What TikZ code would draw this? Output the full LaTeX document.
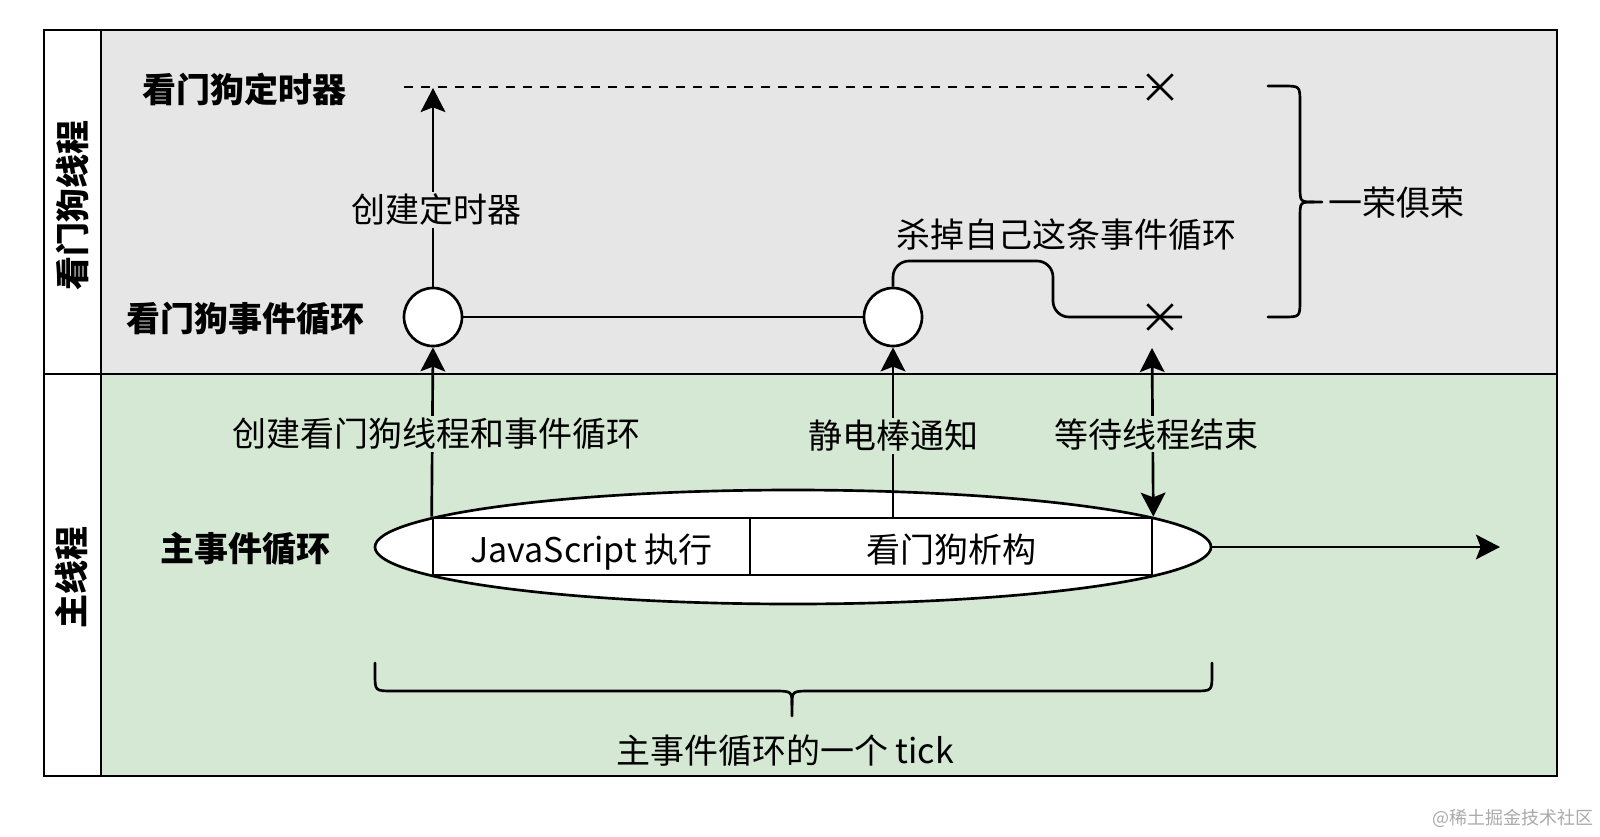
\documentclass[tikz,border=0pt]{standalone}
\usepackage{fontspec}
\setmainfont{Noto Sans CJK SC}
\usetikzlibrary{arrows.meta,shapes.geometric,shapes.misc}
\definecolor{lanegray}{HTML}{E6E6E6}
\definecolor{lanegreen}{HTML}{D5E8D4}
\definecolor{wmgray}{HTML}{AAAAAA}
\begin{document}
\begin{tikzpicture}[x=0.75pt,y=-0.75pt,
  every node/.style={font=\fontsize{25.5}{30}\selectfont, inner sep=0pt},
  ln/.style={line width=2pt},
  arr/.style={ln,-{Stealth[length=18pt,width=18.5pt,inset=3.5pt]}},
  darr/.style={ln,{Stealth[length=18pt,width=18.5pt,inset=3.5pt]}-{Stealth[length=18pt,width=18.5pt,inset=3.5pt]}},
  boldlbl/.style={font=\fontsize{25.5}{30}\selectfont\bfseries},
  lanelbl/.style={boldlbl, rotate=90},
  graylbl/.style={fill=lanegray, inner sep=2pt},
  greenlbl/.style={fill=lanegreen, inner sep=2pt},
  circ/.style={circle, draw, ln, fill=white, minimum size=43.5pt},
  xmark/.style={cross out, draw, ln, minimum size=17pt},
  barbox/.style={rectangle, draw, ln, fill=white, minimum height=42.75pt, text height=26pt, text depth=2pt},
  bracestyle/.style={ln, line cap=round},
  dashline/.style={ln, dash pattern=on 6.75pt off 6pt}
]
\useasboundingbox (0,0) rectangle (1600,836);
\fill[white] (0,0) rectangle (1600,836);
% lanes
\fill[lanegray] (101,30) rectangle (1557,374);
\fill[lanegreen] (101,374) rectangle (1557,776);
\draw[ln] (44,30) rectangle (1557,776);
\draw[ln] (101,30) -- (101,776);
\draw[ln] (44,374) -- (1557,374);

% lane labels
\node[lanelbl] (wdthread) at (72,205) {看门狗线程};
\node[lanelbl] (mainthread) at (72,577) {主线程};

% row labels
\node[boldlbl] (timerlbl) at (244,89) {看门狗定时器};
\node[boldlbl] (wdloop) at (245,319) {看门狗事件循环};
\node[boldlbl] (mainloop) at (245,549) {主事件循环};

% watchdog thread
\node[circ] (c1) at (433,317) {};
\node[circ] (c2) at (893,317) {};
\coordinate (tstart) at (404,87);
\coordinate (ttip) at (433,88);
\node[xmark] (x1) at (1160,87) {};
\node[xmark] (x2) at (1160,317) {};
\coordinate (killend) at (1182,317);

\draw[dashline] (tstart) -- (x1.center);
\draw[arr] (c1.north) -- (ttip);
\node[graylbl] (lcreatetimer) at (436,210) {创建定时器};
\draw[ln] (c1) -- (c2);
\draw[ln, rounded corners=12pt] (c2.north) -- (893,261) -- (1053,261) -- (1053,317) -- (killend);
\node (lkill) at (1066,235) {杀掉自己这条事件循环};

% right brace
\draw[bracestyle] (1268,86) -- (1283,86) .. controls (1300,86) .. (1300,103) -- (1300,186)
  .. controls (1300,202) .. (1314,202) -- (1322,202);
\draw[bracestyle] (1314,202) .. controls (1300,202) .. (1300,218) -- (1300,300)
  .. controls (1300,317) .. (1283,317) -- (1268,317);
\node (lcoexist) at (1396,203) {一荣俱荣};

% main thread
\node[ellipse, draw, ln, fill=white, minimum width=627pt, minimum height=85.5pt] (tick) at (793,547) {};
\node[barbox, minimum width=237.75pt] (js) at (591.5,546.5) {JavaScript 执行};
\node[barbox, minimum width=301.5pt] (wd) at (951,546.5) {看门狗析构};
\coordinate (n2) at (893,518);
\coordinate (xwait) at (1152,348);
\coordinate (outend) at (1500,547);

\draw[arr] (js.north west) -- (c1.south);
\draw[arr] (n2) -- (c2.south);
\draw[darr] (wd.north east) -- (xwait);
\draw[arr] (tick.east) -- (outend);
\node[greenlbl] (lcreate) at (436,434) {创建看门狗线程和事件循环};
\node[greenlbl] (lnotify) at (893,436) {静电棒通知};
\node[greenlbl] (lwait) at (1156,434) {等待线程结束};

% bottom brace
\draw[bracestyle] (375,663) -- (375,674) .. controls (375,691) .. (393,691) -- (772,691)
  .. controls (792,691) .. (792,705) -- (792,716);
\draw[bracestyle] (792,705) .. controls (792,691) .. (812,691) -- (1194,691)
  .. controls (1212,691) .. (1212,674) -- (1212,663);
\node (ltick) at (785,751) {主事件循环的一个 tick};

% watermark
\node[font=\fontsize{13.5}{16}\selectfont, text=wmgray] (wm) at (1513,818) {@稀土掘金技术社区};
\end{tikzpicture}
\end{document}
